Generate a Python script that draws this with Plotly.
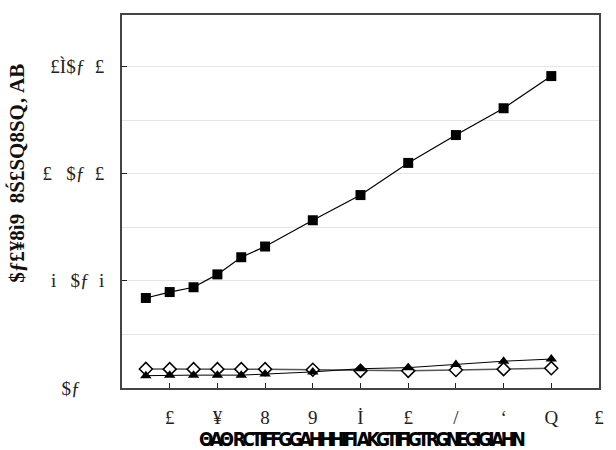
import plotly.graph_objects as go

x_vals = [0.5, 1, 1.5, 2, 2.5, 3, 4, 5, 6, 7, 8, 9]
squares = [0.84, 0.895, 0.94, 1.06, 1.22, 1.32, 1.565, 1.80, 2.10, 2.36, 2.61, 2.91]
diamonds = [0.178, 0.176, 0.176, 0.176, 0.176, 0.176, 0.17, 0.16, 0.16, 0.168, 0.176, 0.185]
triangles = [0.115, 0.12, 0.12, 0.12, 0.12, 0.13, 0.15, 0.18, 0.19, 0.22, 0.25, 0.27]

x_tickvals = [1, 2, 3, 4, 5, 6, 7, 8, 9, 10]
x_ticktext = ["£", "¥", "8", "9", "İ", "£", "/", "ʻ", "Q", "£"]
y_tickvals = [0, 1, 2, 3]
y_ticktext = ["$ƒ\u2003\u00a0", "i\u2002\u00a0$ƒ\u2002i", "£\u2002\u00a0$ƒ\u2002£", "£Ì$ƒ\u2002£"]
x_title = "ΘAΘ RCTIFFGGAHHHIFI AKGTIFIGTRGNEGIGIAHN"
y_title = "$ƒ£¥8ì9  8Ś£SQ8SQ‚ AB"

fig = go.Figure()
fig.add_trace(go.Scatter(x=x_vals, y=diamonds, mode="lines+markers",
                         line=dict(color="#555555", width=1.5),
                         marker=dict(symbol="diamond", size=10, color="white",
                                     line=dict(color="black", width=1.5))))
fig.add_trace(go.Scatter(x=x_vals, y=triangles, mode="lines+markers",
                         line=dict(color="black", width=1),
                         marker=dict(symbol="triangle-up", size=10, color="black")))
fig.add_trace(go.Scatter(x=x_vals, y=squares, mode="lines+markers",
                         line=dict(color="black", width=1.2),
                         marker=dict(symbol="square", size=10, color="black")))

fig.update_layout(
    width=616, height=450,
    margin=dict(l=122, r=17, t=15, b=62),
    paper_bgcolor="white", plot_bgcolor="white",
    showlegend=False,
    font=dict(family="Liberation Serif", color="#222222", size=19),
    xaxis=dict(range=[0, 10], tickvals=x_tickvals, ticktext=x_ticktext,
               automargin=False,
               ticks="inside", ticklen=5, tickcolor="#222222",
               showgrid=False, zeroline=False,
               showline=True, linecolor="#444444", linewidth=2, mirror=True,
               ticklabelstandoff=11,
               tickfont=dict(family="Liberation Serif", size=19),
               title=dict(text="<span style='letter-spacing:-3.6px'><b>" + x_title + "</b></span>", standoff=0,
                          font=dict(family="Liberation Sans Narrow, DejaVu Sans Condensed", size=19, color="#000000"))),
    yaxis=dict(range=[0, 3.48], tickvals=y_tickvals, ticktext=y_ticktext,
               automargin=False,
               ticks="inside", ticklen=5, tickcolor="#222222",
               showgrid=True, gridcolor="#e4e4e4", gridwidth=1,
               minor=dict(dtick=0.5, showgrid=True, gridcolor="#e4e4e4", ticks=""),
               zeroline=False,
               showline=True, linecolor="#444444", linewidth=2, mirror=True,
               ticklabelstandoff=12,
               tickfont=dict(family="Liberation Serif", size=19)),
    annotations=[dict(text="<b>" + y_title + "</b>", textangle=-90, xref="paper", yref="paper",
                      x=-0.222, y=0.575, xanchor="center", yanchor="middle",
                      showarrow=False,
                      font=dict(family="Liberation Serif", size=21, color="#111111"))],
)

fig.write_html("out.html")
